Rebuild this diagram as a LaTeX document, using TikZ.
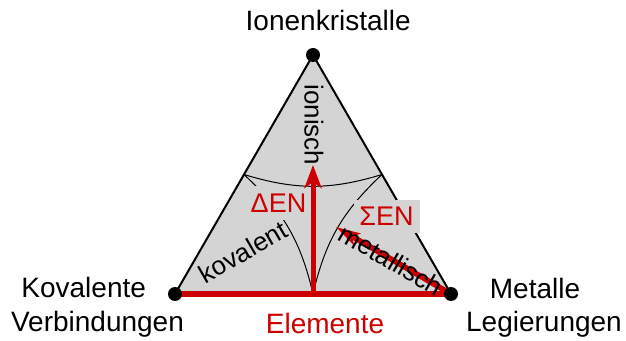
\documentclass[tikz,border=0pt]{standalone}
\usepackage{fontspec}
\setmainfont{Liberation Sans}
\usetikzlibrary{arrows.meta}
\definecolor{tri}{RGB}{212,212,212}
\definecolor{dred}{RGB}{204,0,0}
\begin{document}
\begin{tikzpicture}[x=1pt,y=1pt,
  lab/.style={font=\fontsize{28}{34}\selectfont, inner sep=0pt, anchor=base},
  inlab/.style={font=\fontsize{26}{30}\selectfont, inner sep=0pt},
  enlab/.style={font=\fontsize{27}{30}\selectfont, text=dred, fill=tri, inner sep=0pt},
  arcline/.style={line width=1pt},
  vdot/.style={circle, fill=black, inner sep=0pt, minimum size=14pt},
  redline/.style={draw=dred, line width=6.5pt},
  redarrow/.style={draw=dred, fill=dred}]
\useasboundingbox (0,0) rectangle (626,340);
\coordinate (T) at (313,285);
\coordinate (L) at (175,46);
\coordinate (R) at (451,46);
\coordinate (ML) at (244,165.5);
\coordinate (MR) at (382,165.5);
\coordinate (MB) at (313,46);
\coordinate (tipv) at (313,175);
\coordinate (tipd) at (336,113);
% triangle
\filldraw[fill=tri, line width=2pt, line join=round] (L) -- (T) -- (R) -- cycle;
% arcs and labels that cover them
\draw[arcline] (ML) to[bend left=17] (MB);
\node[enlab, minimum width=66pt, minimum height=34pt] (den) at (278.5,136.5) {ΔEN};
\draw[arcline] (ML) to[bend right=17] (MR);
\draw[arcline] (MR) to[bend right=17] (MB);
\node[enlab, minimum width=66pt, minimum height=33pt] (sen) at (386.5,123.5) {ΣEN};
% red lines and arrows
\draw[redline] (L) -- (R);
\draw[redarrow, line width=5pt, -{Stealth[length=23pt,width=17pt,inset=6pt]}] (MB) -- (tipv);
\draw[redarrow, line width=5.5pt, -{Stealth[length=24pt,width=13pt,inset=5pt]}] (R) -- (tipd);
% inner texts
\node[inlab, rotate=-90] (ion) at (314,215) {ionisch};
\node[inlab, rotate=30] (kov) at (243,88) {kovalent};
\node[inlab, rotate=-30] (met) at (391,80) {metallisch};
% vertex dots
\node[vdot] (dT) at (T) {};
\node[vdot] (dL) at (L) {};
\node[vdot] (dR) at (R) {};
% outer labels
\node[lab, anchor=base west] (ik) at (245.5,309) {Ionenkristalle};
\node[lab] (kv) at (83.7,42) {Kovalente};
\node[lab] (vb) at (97.5,8.3) {Verbindungen};
\node[lab] (mt) at (535,41.7) {Metalle};
\node[lab] (lg) at (544,8.3) {Legierungen};
\node[lab, text=dred] (el) at (325,7) {Elemente};
\end{tikzpicture}
\end{document}
